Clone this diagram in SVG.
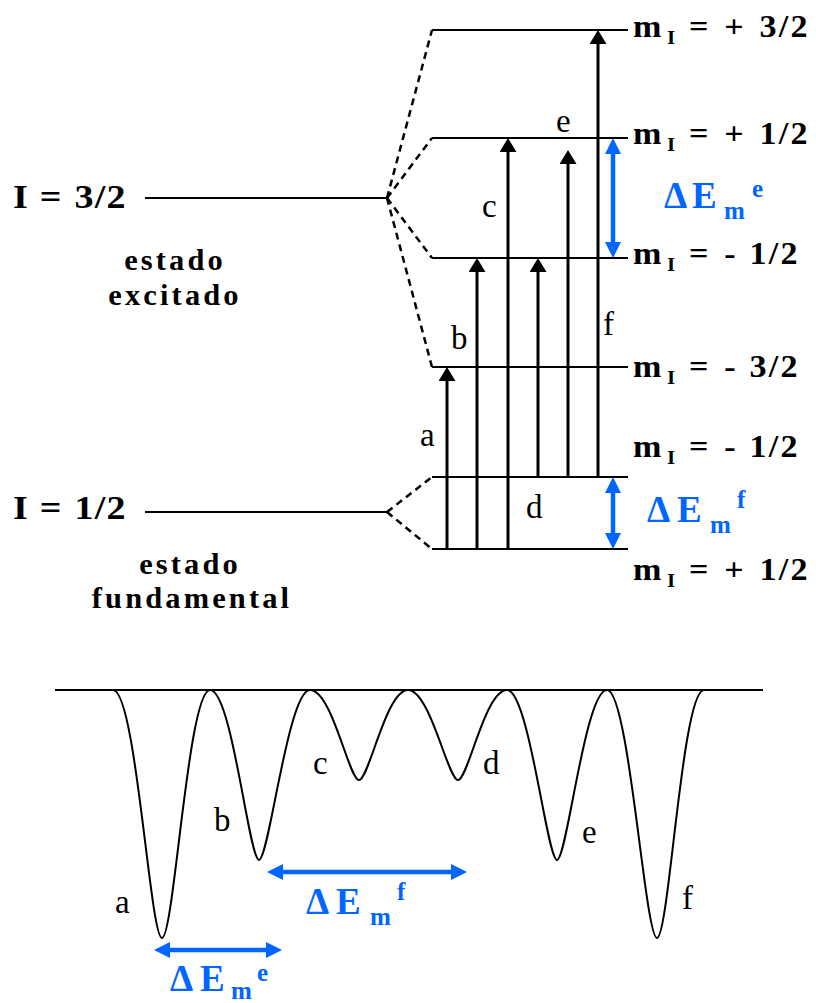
<svg xmlns="http://www.w3.org/2000/svg" width="816" height="1003" viewBox="0 0 816 1003">
<style>
.t{font-family:"Liberation Serif","Times New Roman",serif;font-weight:bold;fill:#000}
.lbl{font-size:31px}
.sub{font-size:19px}
.big{font-size:34px}
.st{font-size:29px;text-anchor:middle;letter-spacing:3px}
.ltr{font-family:"Liberation Serif","Times New Roman",serif;font-size:33px;fill:#000}
.de{font-family:"Liberation Serif","Times New Roman",serif;font-weight:bold;fill:#0066ff;font-size:37px}
.ds{font-family:"Liberation Serif","Times New Roman",serif;font-weight:bold;fill:#0066ff;font-size:25px}
.lev{stroke:#000;stroke-width:2;fill:none}
.dash{stroke:#000;stroke-width:2.5;fill:none;stroke-dasharray:7 5}
.arr{stroke:#000;stroke-width:3;fill:none;marker-end:url(#ah)}
.barr{stroke:#0066ff;stroke-width:4.5;fill:none;marker-start:url(#bh);marker-end:url(#bh)}
</style>
<defs>
<marker id="ah" viewBox="0 -8.5 14 17" refX="8" refY="0" markerWidth="14" markerHeight="17" markerUnits="userSpaceOnUse" orient="auto"><path d="M0,-8.5 L14,0 L0,8.5 z" fill="#000"/></marker>
<marker id="bh" viewBox="0 -8 16 16" refX="10" refY="0" markerWidth="16" markerHeight="16" markerUnits="userSpaceOnUse" orient="auto-start-reverse"><path d="M0,-8 L16,0 L0,8 z" fill="#0066ff"/></marker>
</defs>

<g id="levels">
<line class="lev" x1="145" y1="198" x2="387" y2="198"/>
<line class="lev" x1="145" y1="512" x2="387" y2="512"/>
<line class="lev" x1="432" y1="30" x2="628" y2="30"/>
<line class="lev" x1="432" y1="138" x2="628" y2="138"/>
<line class="lev" x1="432" y1="258" x2="628" y2="258"/>
<line class="lev" x1="432" y1="367" x2="628" y2="367"/>
<line class="lev" x1="432" y1="477" x2="628" y2="477"/>
<line class="lev" x1="432" y1="549" x2="628" y2="549"/>
</g>

<g id="connectors">
<line class="dash" x1="387" y1="198" x2="432" y2="30"/>
<line class="dash" x1="387" y1="198" x2="432" y2="138"/>
<line class="dash" x1="387" y1="198" x2="432" y2="258"/>
<line class="dash" x1="387" y1="198" x2="432" y2="367"/>
<line class="dash" x1="387" y1="512" x2="432" y2="477"/>
<line class="dash" x1="387" y1="512" x2="432" y2="549"/>
<line class="arr" x1="447" y1="549" x2="447" y2="373"/>
<line class="arr" x1="477" y1="549" x2="477" y2="264"/>
<line class="arr" x1="508" y1="549" x2="508" y2="144"/>
<line class="arr" x1="538" y1="477" x2="538" y2="264"/>
<line class="arr" x1="568" y1="477" x2="568" y2="156"/>
<line class="arr" x1="598" y1="477" x2="598" y2="36"/>
<line class="barr" x1="613" y1="144" x2="613" y2="252"/>
<line class="barr" x1="613" y1="483" x2="613" y2="543"/>
<line class="barr" x1="273" y1="872" x2="461" y2="872"/>
<line class="barr" x1="160" y1="950" x2="276" y2="950"/>
</g>

<g id="state-labels">
<g transform="translate(13,208) scale(1.12,1)"><text class="t big" x="0">I</text><text class="t big" x="24">=</text><text class="t big" x="55" letter-spacing="1">3/2</text></g>
<g transform="translate(13,519) scale(1.12,1)"><text class="t big" x="0">I</text><text class="t big" x="24">=</text><text class="t big" x="55" letter-spacing="1">1/2</text></g>
<text class="t st" transform="translate(175,270) scale(1.05,1)">estado</text>
<text class="t st" transform="translate(175,305) scale(1.05,1)">excitado</text>
<text class="t st" transform="translate(190,574) scale(1.05,1)">estado</text>
<text class="t st" transform="translate(192,608) scale(1.05,1)">fundamental</text>
</g>

<g id="mI-labels">
<g transform="translate(633,37) scale(1.1,1)"><text class="t lbl" x="0">m</text><text class="t sub" x="31" y="7">I</text><text class="t lbl" x="51">=</text><text class="t lbl" x="83">+</text><text class="t lbl" x="115" letter-spacing="2">3/2</text></g>
<g transform="translate(633,144) scale(1.1,1)"><text class="t lbl" x="0">m</text><text class="t sub" x="31" y="7">I</text><text class="t lbl" x="51">=</text><text class="t lbl" x="83">+</text><text class="t lbl" x="115" letter-spacing="2">1/2</text></g>
<g transform="translate(633,264) scale(1.1,1)"><text class="t lbl" x="0">m</text><text class="t sub" x="31" y="7">I</text><text class="t lbl" x="51">=</text><text class="t lbl" x="83">-</text><text class="t lbl" x="106" letter-spacing="2">1/2</text></g>
<g transform="translate(633,377) scale(1.1,1)"><text class="t lbl" x="0">m</text><text class="t sub" x="31" y="7">I</text><text class="t lbl" x="51">=</text><text class="t lbl" x="83">-</text><text class="t lbl" x="106" letter-spacing="2">3/2</text></g>
<g transform="translate(633,457) scale(1.1,1)"><text class="t lbl" x="0">m</text><text class="t sub" x="31" y="7">I</text><text class="t lbl" x="51">=</text><text class="t lbl" x="83">-</text><text class="t lbl" x="106" letter-spacing="2">1/2</text></g>
<g transform="translate(633,580) scale(1.1,1)"><text class="t lbl" x="0">m</text><text class="t sub" x="31" y="7">I</text><text class="t lbl" x="51">=</text><text class="t lbl" x="83">+</text><text class="t lbl" x="115" letter-spacing="2">1/2</text></g>
</g>

<g id="transition-labels">
<text class="ltr" x="420" y="446">a</text>
<text class="ltr" x="451" y="349">b</text>
<text class="ltr" x="482" y="217">c</text>
<text class="ltr" x="526" y="518">d</text>
<text class="ltr" x="556" y="132">e</text>
<text class="ltr" x="603" y="335">f</text>
</g>

<g id="delta-labels">
<text class="de" x="664" y="208">Δ</text><text class="de" x="692" y="208">E</text><text class="ds" x="724" y="219">m</text><text class="ds" x="752" y="197">e</text>
<text class="de" x="647" y="522">Δ</text><text class="de" x="677" y="522">E</text><text class="ds" x="710" y="533">m</text><text class="ds" x="737" y="508">f</text>
<text class="de" x="306" y="914">Δ</text><text class="de" x="336" y="914">E</text><text class="ds" x="370" y="925">m</text><text class="ds" x="397" y="900">f</text>
<text class="de" x="170" y="991">Δ</text><text class="de" x="200" y="991">E</text><text class="ds" x="231" y="999">m</text><text class="ds" x="257" y="981">e</text>
</g>

<g id="spectrum">
<line class="lev" x1="55" y1="690" x2="763" y2="690"/>
<path class="lev" stroke-width="2.2" d="M113,690 C136,690 150,938 162,938 C174,938 188,690 210,690 C232,690 249,860 259,860 C269,860 288,690 310,690 C332,690 349,780 359,780 C369,780 386,690 408,690 C430,690 448,780 458,780 C468,780 485,690 507,690 C529,690 547,860 557,860 C567,860 585,690 607,690 C629,690 645,938 657,938 C669,938 682,690 704,690"/>
<text class="ltr" x="115" y="913">a</text>
<text class="ltr" x="214" y="831">b</text>
<text class="ltr" x="313" y="774">c</text>
<text class="ltr" x="483" y="774">d</text>
<text class="ltr" x="582" y="843">e</text>
<text class="ltr" x="682" y="909">f</text>
</g>
</svg>
